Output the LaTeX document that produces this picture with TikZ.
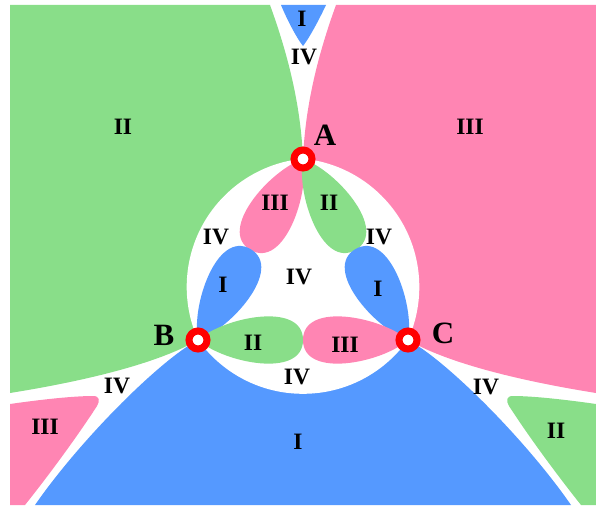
\documentclass[tikz,border=0pt]{standalone}
\usepackage{fontspec}
\setmainfont{Liberation Serif}
\definecolor{rgreen}{HTML}{89DE89}
\definecolor{rpink}{HTML}{FF85B3}
\definecolor{rblue}{HTML}{5599FF}
\tikzset{
  lbl/.style={font=\fontsize{23.5}{23.5}\selectfont\bfseries, inner sep=0pt},
  vlbl/.style={font=\fontsize{31}{31}\selectfont\bfseries, inner sep=0pt},
  ring/.style={circle, draw=red, line width=7pt, fill=white, minimum size=18pt, inner sep=0pt}
}
\newcommand\petal[3]{\fill[#1,shift={#2},rotate=#3] (0,0) .. controls (26,23) and (105,39) .. (105,0) .. controls (105,-39) and (26,-23) .. cycle;}
\begin{document}
\begin{tikzpicture}[x=1pt,y=-1pt]
\useasboundingbox (0,0) rectangle (596,508);
% big regions
\fill[rgreen] (10,5) -- (270,5) .. controls (290,60) and (301,110) .. (303,159) -- (303,280) -- (198,340) .. controls (150,368) and (60,385) .. (10,393) -- cycle;
\fill[rpink] (336,5) -- (596,5) -- (596,393) .. controls (546,385) and (456,368) .. (408,340) -- (303,280) -- (303,159) .. controls (305,110) and (316,60) .. (336,5) -- cycle;
\fill[rblue] (198,340) .. controls (160,360) and (80,440) .. (35,505) -- (571,505) .. controls (526,440) and (446,360) .. (408,340) -- (303,280) -- cycle;
\fill[rblue] (281,5) -- (326,5) .. controls (318,22) and (308,40) .. (303,46) .. controls (298,40) and (288,22) .. (281,5) -- cycle;
\fill[rpink] (10,404) .. controls (45,399) and (75,396) .. (93,396) .. controls (100,396) and (100,401) .. (97,406) .. controls (75,440) and (45,480) .. (25,505) -- (10,505) -- cycle;
\fill[rgreen] (596,404) .. controls (561,399) and (531,396) .. (513,396) .. controls (506,396) and (506,401) .. (509,406) .. controls (531,440) and (561,480) .. (581,505) -- (596,505) -- cycle;
% white curved triangle
\begin{scope}
  \clip (315.5,286.9) circle (128.8);
  \clip (290.5,286.9) circle (128.8);
  \fill[white] (303,265) circle (128.8);
\end{scope}
% petals
\petal{rpink}{(303,159)}{-120}
\petal{rgreen}{(303,159)}{-60}
\petal{rblue}{(198,340)}{60}
\petal{rgreen}{(198,340)}{0}
\petal{rblue}{(408,340)}{120}
\petal{rpink}{(408,340)}{180}
% vertices
\node[ring] (A) at (303,159) {};
\node[ring] (B) at (198,340) {};
\node[ring] (C) at (408,340) {};
\node[vlbl] (lA) at (325,135) {A};
\node[vlbl] (lB) at (164,335) {B};
\node[vlbl] (lC) at (443,333) {C};
% labels
\node[lbl] (t1) at (123,127) {II};
\node[lbl] (t2) at (470,127) {III};
\node[lbl] (t3) at (302,19) {I};
\node[lbl] (t4) at (304,57) {IV};
\node[lbl] (t5) at (275,203) {III};
\node[lbl] (t6) at (329,203) {II};
\node[lbl] (t7) at (216,237) {IV};
\node[lbl] (t8) at (379,237) {IV};
\node[lbl] (t9) at (223,285) {I};
\node[lbl] (t10) at (299,277) {IV};
\node[lbl] (t11) at (378,289) {I};
\node[lbl] (t12) at (253,343) {II};
\node[lbl] (t13) at (345,345) {III};
\node[lbl] (t14) at (297,377) {IV};
\node[lbl] (t15) at (117,386) {IV};
\node[lbl] (t16) at (486,387) {IV};
\node[lbl] (t17) at (45,427) {III};
\node[lbl] (t18) at (556,431) {II};
\node[lbl] (t19) at (298,442) {I};
\end{tikzpicture}
\end{document}
